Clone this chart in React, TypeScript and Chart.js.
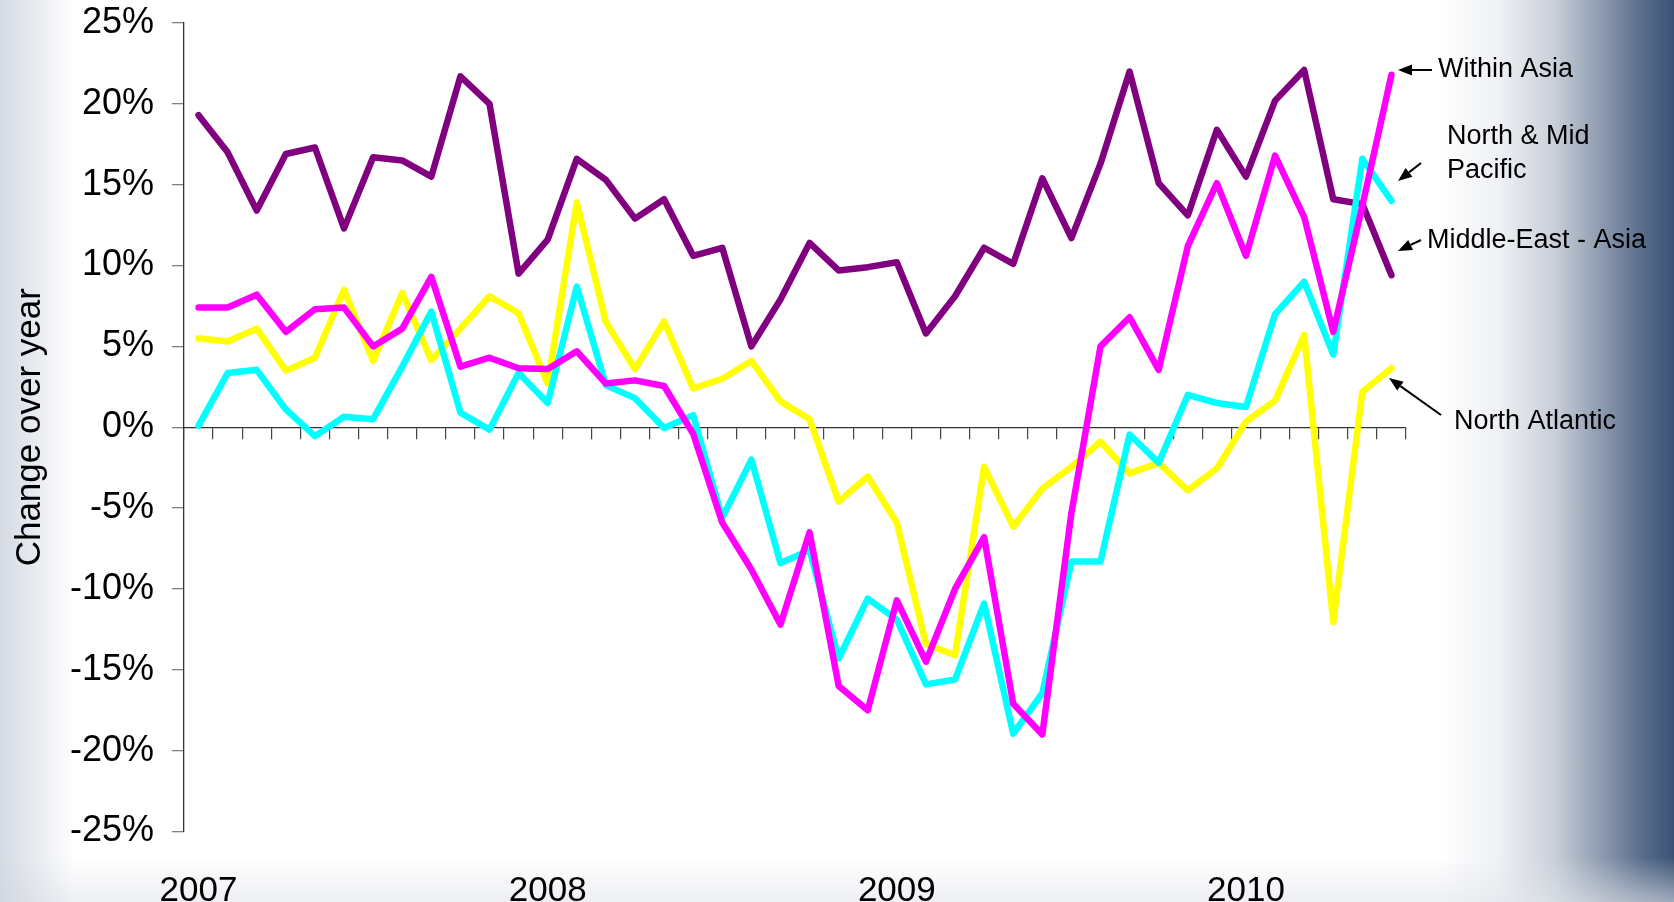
import React, { useEffect, useRef } from 'react';
import { Chart, registerables } from 'chart.js';

Chart.register(...registerables);

const months = [
  'Jan 2007', 'Feb 2007', 'Mar 2007', 'Apr 2007', 'May 2007', 'Jun 2007', 'Jul 2007', 'Aug 2007', 'Sep 2007', 'Oct 2007', 'Nov 2007', 'Dec 2007',
  'Jan 2008', 'Feb 2008', 'Mar 2008', 'Apr 2008', 'May 2008', 'Jun 2008', 'Jul 2008', 'Aug 2008', 'Sep 2008', 'Oct 2008', 'Nov 2008', 'Dec 2008',
  'Jan 2009', 'Feb 2009', 'Mar 2009', 'Apr 2009', 'May 2009', 'Jun 2009', 'Jul 2009', 'Aug 2009', 'Sep 2009', 'Oct 2009', 'Nov 2009', 'Dec 2009',
  'Jan 2010', 'Feb 2010', 'Mar 2010', 'Apr 2010', 'May 2010', 'Jun 2010',
];

const middleEastAsia = [
  19.3, 17.0, 13.4, 16.9, 17.3, 12.3, 16.7, 16.5, 15.5, 21.7, 20.0, 9.5,
  11.6, 16.6, 15.3, 12.9, 14.1, 10.6, 11.1, 5.0, 7.9, 11.4, 9.7, 9.9,
  10.2, 5.8, 8.1, 11.1, 10.1, 15.4, 11.7, 16.3, 22.0, 15.1, 13.1, 18.4,
  15.5, 20.2, 22.1, 14.1, 13.8, 9.4,
];

const withinAsia = [
  7.4, 7.4, 8.2, 5.9, 7.3, 7.4, 5.0, 6.1, 9.3, 3.75, 4.3, 3.65,
  3.6, 4.7, 2.7, 2.9, 2.55, -0.4, -5.9, -8.8, -12.2, -6.5, -16.0, -17.5,
  -10.7, -14.5, -10.0, -6.8, -17.1, -19.0, -5.3, 5.0, 6.8, 3.55, 11.2, 15.1,
  10.6, 16.8, 13.0, 5.9, 13.7, 21.8,
];

const northMidPacific = [
  0.1, 3.35, 3.55, 1.1, -0.55, 0.65, 0.5, 3.75, 7.15, 0.9, -0.15, 3.35,
  1.5, 8.7, 2.6, 1.8, -0.05, 0.75, -5.6, -2.0, -8.4, -7.6, -14.3, -10.6,
  -11.9, -15.9, -15.6, -10.9, -18.95, -16.45, -8.3, -8.3, -0.45, -2.2, 2.0, 1.5,
  1.25, 7.0, 9.0, 4.5, 16.6, 14.0,
];

const northAtlantic = [
  5.5, 5.3, 6.1, 3.5, 4.3, 8.5, 4.1, 8.3, 4.15, 6.1, 8.1, 7.05,
  2.7, 13.9, 6.5, 3.6, 6.55, 2.4, 3.0, 4.1, 1.6, 0.5, -4.6, -3.05,
  -5.9, -13.4, -14.1, -2.45, -6.15, -3.8, -2.45, -0.9, -2.85, -2.2, -3.9, -2.55,
  0.35, 1.65, 5.7, -12.05, 2.2, 3.65,
];

const seriesNames = ['Within Asia', 'North & Mid Pacific', 'Middle-East - Asia', 'North Atlantic'];
const seriesColors = ['#ff00ff', '#00ffff', '#800080', '#ffff00'];

const FONT = "'Liberation Sans', Arial, sans-serif";

// annotation labels: text lines, text position and arrow (tail -> tip) in pixels
const annotations = [
  { lines: ['Within Asia'], x: 1438, y: [77], tail: [1432, 70], tip: [1398, 70] },
  { lines: ['North & Mid', 'Pacific'], x: 1447, y: [144, 178], tail: [1421, 163], tip: [1398, 181] },
  { lines: ['Middle-East - Asia'], x: 1427, y: [248], tail: [1421, 240], tip: [1398, 251] },
  { lines: ['North Atlantic'], x: 1454, y: [429], tail: [1441, 415], tip: [1389, 378] },
];

const annotationPlugin = {
  id: 'annotations',
  afterDraw(chart: any) {
    const ctx = chart.ctx as CanvasRenderingContext2D;
    ctx.save();
    ctx.fillStyle = '#000';
    ctx.strokeStyle = '#000';
    ctx.font = `27px ${FONT}`;
    ctx.textAlign = 'left';
    ctx.textBaseline = 'alphabetic';
    for (const a of annotations) {
      a.lines.forEach((t, i) => ctx.fillText(t, a.x, a.y[i]));
      const [tx, ty] = a.tail;
      const [hx, hy] = a.tip;
      const ang = Math.atan2(hy - ty, hx - tx);
      const headLen = 14;
      const headW = 5.5;
      const bx = hx - headLen * Math.cos(ang);
      const by = hy - headLen * Math.sin(ang);
      ctx.lineWidth = 2;
      ctx.beginPath();
      ctx.moveTo(tx, ty);
      ctx.lineTo(bx, by);
      ctx.stroke();
      ctx.beginPath();
      ctx.moveTo(hx, hy);
      ctx.lineTo(bx + headW * Math.sin(ang), by - headW * Math.cos(ang));
      ctx.lineTo(bx - headW * Math.sin(ang), by + headW * Math.cos(ang));
      ctx.closePath();
      ctx.fill();
    }
    ctx.restore();
  },
};

export default function App() {
  const canvasRef = useRef<HTMLCanvasElement | null>(null);

  useEffect(() => {
    if (!canvasRef.current) return;
    const dataArrays = [withinAsia, northMidPacific, middleEastAsia, northAtlantic];
    const chart = new Chart(canvasRef.current, {
      type: 'line',
      data: {
        labels: months,
        datasets: dataArrays.map((d, i) => ({
          label: seriesNames[i],
          data: d,
          borderColor: seriesColors[i],
          backgroundColor: seriesColors[i],
          borderWidth: 6.5,
          pointRadius: 0,
          tension: 0,
          fill: false,
          borderJoinStyle: 'round' as const,
          borderCapStyle: 'round' as const,
        })),
      },
      options: {
        animation: false,
        responsive: true,
        maintainAspectRatio: false,
        layout: { padding: { left: 0, right: 268, top: 23, bottom: 0 } },
        plugins: { legend: { display: false }, tooltip: { enabled: false } },
        scales: {
          y: {
            type: 'linear',
            position: 'left',
            min: -25,
            max: 25,
            ticks: {
              stepSize: 5,
              padding: 18,
              color: '#000',
              font: { size: 36, family: FONT },
              callback: (v: any) => `${v}%`,
            },
            grid: { display: true, drawOnChartArea: false, drawTicks: true, tickLength: 12, color: '#808080', lineWidth: 1.3 },
            border: { display: true, color: '#333', width: 1.3 },
            title: {
              display: true,
              text: 'Change over year',
              color: '#000',
              font: { size: 35, family: FONT },
              padding: { top: 9, bottom: 0 },
            },
            afterFit: (s: any) => {
              s.width = 184;
              s.paddingTop = 0;
              s.paddingBottom = 0;
            },
          },
          x: {
            type: 'category',
            position: { y: 0 },
            offset: true,
            ticks: { display: false },
            grid: { display: true, offset: true, drawOnChartArea: false, drawTicks: true, tickLength: 11, color: '#444', lineWidth: 1.2 },
            border: { display: true, color: '#333', width: 1.3 },
          },
          x2: {
            type: 'category',
            position: 'bottom',
            offset: true,
            grid: { display: false },
            border: { display: false },
            ticks: {
              autoSkip: false,
              maxRotation: 0,
              minRotation: 0,
              padding: 31,
              color: '#000',
              font: { size: 35, family: FONT },
              callback: (_v: any, i: number) => (months[i].startsWith('Jan') ? months[i].slice(4) : ''),
            },
            afterFit: (s: any) => { s.height = 70.5; },
          },
        },
      } as any,
      plugins: [annotationPlugin],
    });
    return () => chart.destroy();
  }, []);

  return (
    <div
      style={{
        position: 'fixed',
        left: 0,
        top: 0,
        width: 1674,
        height: 902,
        background: [
          'linear-gradient(to right, rgba(205,211,222,0.85) 0px, rgba(255,255,255,0) 75px)',
          'linear-gradient(to top, rgba(226,229,235,0.6) 0px, rgba(255,255,255,0) 45px)',
          'linear-gradient(to right, #ffffff 0px, #ffffff 1440px, #eef0f4 1500px, #c8cfd9 1555px, #8f9cb0 1600px, #5b6f8d 1640px, #3a5275 1674px)',
        ].join(', '),
      }}
    >
      <div style={{ position: 'relative', width: '100%', height: '100%' }}>
        <canvas ref={canvasRef} />
      </div>
    </div>
  );
}
